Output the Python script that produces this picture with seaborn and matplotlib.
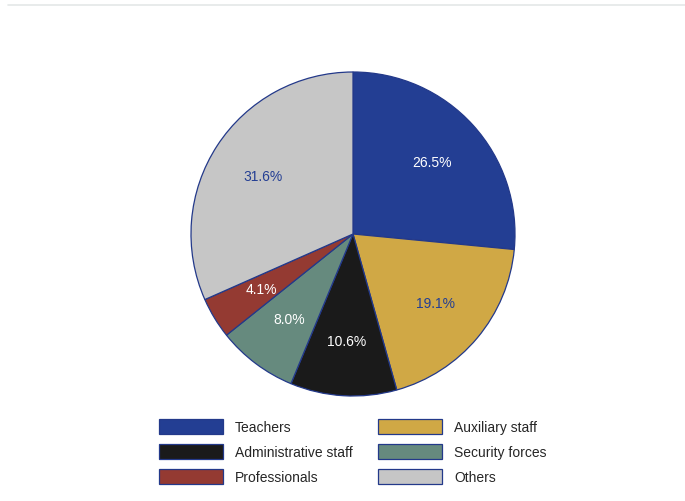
import matplotlib
matplotlib.use("Agg")
import matplotlib.pyplot as plt
from matplotlib.patches import Patch
from matplotlib.lines import Line2D
import seaborn as sns

categories = ["Teachers", "Auxiliary staff", "Administrative staff",
              "Security forces", "Professionals", "Others"]
shares = [26.5, 19.1, 10.6, 8.0, 4.1, 31.6]
colors = ["#233e93", "#d0a845", "#1a1a1a", "#668a7e", "#943a32", "#c6c6c6"]
label_colors = ["white", "#233e93", "white", "white", "white", "#233e93"]
edge = "#23398a"

sns.set_theme(style="white")
plt.rcParams["font.family"] = ["Liberation Sans", "DejaVu Sans"]

W, H = 685, 502
fig = plt.figure(figsize=(W / 100, H / 100), dpi=100)
fig.patch.set_facecolor("white")

# thin rule across the top
fig.add_artist(Line2D([8 / W, 1], [1 - 5.5 / H, 1 - 5.5 / H], color="#e4e8e8", lw=1.2))

cx, cy, r = 353, 235, 162
ax = fig.add_axes([(cx - r) / W, 1 - (cy + r) / H, 2 * r / W, 2 * r / H])
wedges, texts, autotexts = ax.pie(
    shares, colors=colors, startangle=90, counterclock=False,
    autopct="%.1f%%", pctdistance=0.66,
    wedgeprops=dict(edgecolor=edge, linewidth=0.9),
    textprops=dict(fontsize=10),
)
for t, c in zip(autotexts, label_colors):
    t.set_color(c)
ax.set_xlim(-1, 1)
ax.set_ylim(-1, 1)
ax.set_aspect("equal")
ax.axis("off")

# legend in reading order: two columns
order = [0, 2, 4, 1, 3, 5]
handles = [Patch(facecolor=colors[i], edgecolor=edge, linewidth=0.9) for i in order]
labels = [categories[i] for i in order]
fig.legend(handles, labels, ncol=2, loc="upper left",
           bbox_to_anchor=(155 / W, 1 - 416 / H), frameon=False,
           fontsize=10, handlelength=4.6, handleheight=1.3,
           handletextpad=0.85, columnspacing=1.85, labelspacing=0.68,
           borderaxespad=0, borderpad=0.3)

fig.savefig("out.png", dpi=100, facecolor="white")
